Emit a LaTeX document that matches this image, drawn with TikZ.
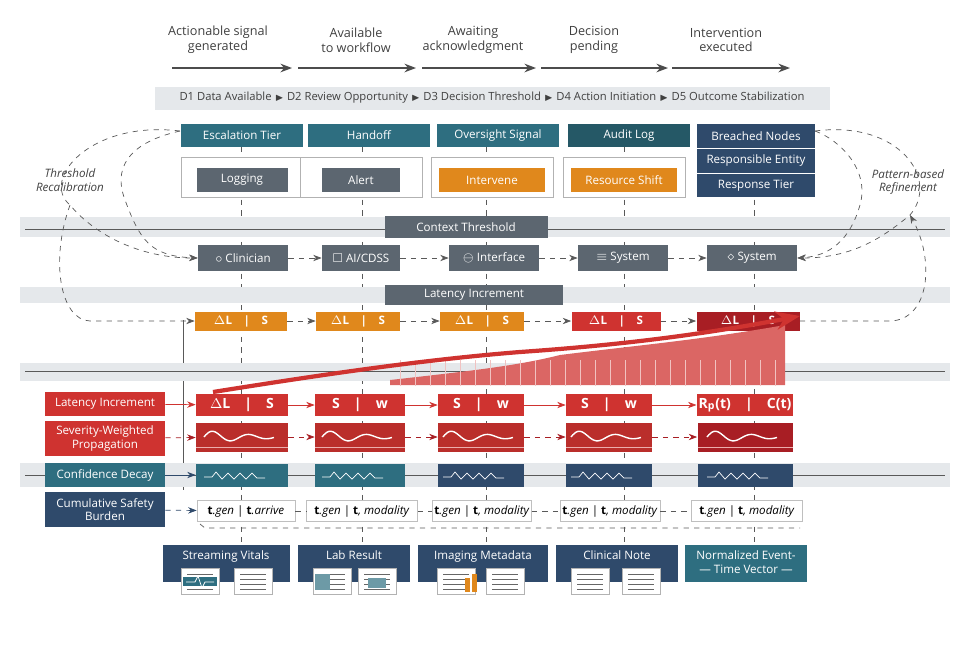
\documentclass[tikz,border=0pt]{standalone}
\usepackage{amssymb}
\usepackage{fontspec}
\setmainfont{Open Sans}
\usetikzlibrary{arrows.meta,positioning}
\definecolor{tealc}{HTML}{2E6E80}
\definecolor{navyc}{HTML}{2F4A6B}
\definecolor{redc}{HTML}{CF3330}
\definecolor{dredc}{HTML}{A81E24}
\definecolor{orangec}{HTML}{E0881C}
\definecolor{grayc}{HTML}{5C6670}
\definecolor{bandc}{HTML}{E5E8EB}
\newcommand{\tsz}{\fontsize{6.6}{7.6}\selectfont}
\begin{document}
\begin{tikzpicture}[
    x=0.02cm, y=-0.02cm,
    >=Stealth,
    txt/.style = {font=\tsz, text=black!75, align=center},
    box/.style = {font=\tsz, text=white, align=center, inner sep=1pt},
    tier/.style = {box, fill=tealc, minimum width=122*0.02cm, minimum height=23*0.02cm},
    actor/.style = {box, fill=grayc, minimum width=90*0.02cm, minimum height=26*0.02cm},
    lab/.style = {box, minimum width=120*0.02cm},
    guide/.style = {dashed, gray!70!black, thin},
    flow/.style = {dashed, ->, gray!70!black, thin},
    band/.style = {fill=bandc, draw=none}
  ]
  \useasboundingbox (0,0) rectangle (975,650);

  % stage captions
  \foreach \cx/\tx [count=\i] in {218/Actionable signal\\generated, 356/Available\\to workflow,
      473/Awaiting\\acknowledgment, 594/Decision\\pending, 726/Intervention\\executed}
    \node[txt, font=\fontsize{7.2}{8.4}\selectfont] (stage\i) at (\cx,40) {\tx};
  \foreach \a/\b in {172/292, 298/416, 422/536, 541/668, 672/790}
    \draw[->, thick, gray!60!black] (\a,68) -- (\b,68);

  % decision band
  \path[band] (155,87) rectangle (830,110);
  \node[txt, font=\fontsize{6.4}{7}\selectfont] (dband) at (492,98)
    {D1 Data Available {\tiny$\blacktriangleright$} D2 Review Opportunity {\tiny$\blacktriangleright$} D3 Decision Threshold {\tiny$\blacktriangleright$} D4 Action Initiation {\tiny$\blacktriangleright$} D5 Outcome Stabilization};

  % vertical guides
  \foreach \cx in {241,362,486,624,754}
    \draw[guide] (\cx,147) -- (\cx,545);
  \draw[gray!70!black, thin] (183,320) -- (183,490);

  % gray bands
  \path[band] (20,217) rectangle (950,237);
  \path[band] (20,287) rectangle (950,303);
  \path[band] (20,363) rectangle (950,381);
  \path[band] (20,463) rectangle (950,487);
  \draw[gray!70!black] (25,229) -- (945,229);
  \draw[gray!70!black] (25,371) -- (945,371);
  \draw[gray!70!black] (25,475) -- (945,475);

  % tier headers
  \node[tier] (t1) at (242,135.5) {Escalation Tier};
  \node[tier] (t2) at (369,135.5) {Handoff};
  \node[tier] (t3) at (498,135.5) {Oversight Signal};
  \node[tier, fill=tealc!80!black] (t4) at (629,135.5) {Audit Log};
  \node[box, fill=navyc, minimum width=118*0.02cm, minimum height=24*0.02cm] (b1) at (756,136) {Breached Nodes};
  \node[box, fill=navyc, minimum width=118*0.02cm, minimum height=24*0.02cm, below=0pt of b1] (b2) {Responsible Entity};
  \node[box, fill=navyc, minimum width=118*0.02cm, minimum height=24*0.02cm, below=0pt of b2] (b3) {Response Tier};
  \foreach \n in {b1,b2} \draw[white] (\n.south west) -- (\n.south east);

  % action boxes
  \foreach \cx/\w/\c/\tx [count=\i] in {242/91/grayc/Logging, 361/78/grayc/Alert,
      492/106/orangec/Intervene, 624/106/orangec/Resource Shift} {
    \draw[gray!60, fill=white] (\cx-61,157) rectangle (\cx+61,197);
    \node[box, fill=\c, minimum width=\w*0.02cm, minimum height=24*0.02cm] (act\i) at (\cx,180) {\tx};
  }

  \node[box, fill=grayc, minimum width=163*0.02cm, minimum height=22*0.02cm] (ctx) at (466,227) {Context Threshold};

  % actors
  \node[actor] (a1) at (243,258) {$\circ$ Clinician};
  \node[actor, minimum width=78*0.02cm] (a2) at (361,258) {$\square$ AI/CDSS};
  \node[actor] (a3) at (494,258) {$\ominus$ Interface};
  \node[actor] (a4) at (623,258) {$\equiv$\ System};
  \node[actor] (a5) at (752,258) {$\diamond$ System};
  \foreach \a/\b in {a1/a2, a2/a3, a3/a4, a4/a5}
    \draw[flow] (\a) -- (\b);

  \node[box, fill=grayc, minimum width=178*0.02cm, minimum height=20*0.02cm] (lat) at (474,295) {Latency Increment};

  % latency row
  \foreach \cx/\w/\c [count=\i] in {241/92/orangec, 358/84/orangec, 482/84/orangec, 616/89/redc, 748/103/dredc} {
    \node[box, fill=\c, minimum width=\w*0.02cm, minimum height=19*0.02cm, font=\tsz\bfseries] (dl\i) at (\cx,321)
      {$\Delta$L\quad\textbar\quad S};
  }
  \foreach \a/\b in {dl1/dl2, dl2/dl3, dl3/dl4, dl4/dl5}
    \draw[flow] (\a) -- (\b);

  % rising severity
  \fill[redc!75] (390,385) -- (390,380) .. controls (480,370) and (520,365) .. (560,355)
    .. controls (640,345) and (700,340) .. (785,325) -- (785,385) -- cycle;
  \foreach \x in {400,415,...,780} \draw[white!70!redc, thin] (\x,386) -- (\x,360);
  \draw[->, redc, line width=2.4pt] (213,392) .. controls (320,375) and (420,360) .. (520,352)
    .. controls (620,345) and (700,335) .. (800,316);

  % left labels
  \node[lab, fill=redc, minimum height=24*0.02cm] (l1) at (105,404) {Latency Increment};
  \node[lab, fill=redc, minimum height=35*0.02cm] (l2) at (105,438.5) {Severity-Weighted\\Propagation};
  \node[lab, fill=tealc, minimum height=24*0.02cm] (l3) at (105,475) {Confidence Decay};
  \node[lab, fill=navyc, minimum height=35*0.02cm] (l4) at (105,509.5) {Cumulative Safety\\Burden};

  % value rows
  \foreach \cx/\w/\wc/\cc/\ta/\tb [count=\i] in {242/92/redc!90!black/tealc/$\Delta$L/S, 360/90/redc!90!black/tealc/S/w,
      481/86/redc!90!black/navyc/S/w, 609/86/redc!90!black/navyc/S/w, 745/95/dredc/navyc/R\textsubscript{p}(t)/C(t)} {
    \node[box, fill=redc, minimum width=\w*0.02cm, minimum height=22*0.02cm, font=\fontsize{8}{9}\selectfont\bfseries] (v\i) at (\cx,405)
      {\ta\quad\textbar\quad\tb};
    \node[box, fill=\wc, minimum width=\w*0.02cm, minimum height=29*0.02cm] (w\i) at (\cx,437) {};
    \begin{scope}[shift={(\cx-38,437)}]
      \draw[white, thick] plot[smooth, domain=0:70, samples=40] (\x,{-7*sin(10*\x)*exp(-\x/45)});
    \end{scope}
    \draw[white!60!redc] (\cx-\w/2,447) -- (\cx+\w/2,447);
    \node[box, fill=\cc, minimum width=\w*0.02cm, minimum height=23*0.02cm] (c\i) at (\cx,475) {};
    \draw[white, thin] (\cx-38,477) -- ++(8,0) -- ++(4,-5) -- ++(6,7) -- ++(6,-6) -- ++(6,6) -- ++(6,-6)
      -- ++(6,6) -- ++(6,-6) -- ++(5,5) -- ++(8,0);
  }
  \foreach \a/\b in {v1/v2, v2/v3, v3/v4, v4/v5} \draw[->, redc] (\a) -- (\b);
  \foreach \a/\b in {w1/w2, w2/w3, w3/w4, w4/w5} \draw[->, dashed, dredc] (\a) -- (\b);
  \draw[->, redc] (l1) -- (v1);
  \draw[->, dashed, dredc] (l2) -- (w1);
  \draw[->, navyc] (l3) -- (c1);

  % event-time row
  \foreach \cx/\w/\tb [count=\i] in {246/98/{.arrive}, 362/111/{, modality}, 482/92/{, modality},
      610/100/{, modality}, 747/111/{, modality}} {
    \node[draw=gray!50, fill=white, minimum width=\w*0.02cm, minimum height=21*0.02cm, font=\tsz, inner sep=1pt] (e\i) at (\cx,511)
      {\textbf{t}\textit{.gen}\ \textbar\ \textbf{t}\textit{\tb}};
  }
  \foreach \a/\b in {e1/e2, e2/e3, e3/e4, e4/e5} \draw[guide] (\a) -- (\b);
  \draw[->, dashed, navyc] (l4) -- (e1);
  \draw[guide] (200,524) -- (205,528) -- (800,528);

  % sources
  \foreach \cx/\w/\c/\tx [count=\i] in {226/127/navyc/Streaming Vitals, 354/112/navyc/Lab Result,
      483/130/navyc/Imaging Metadata, 617/122/navyc/Clinical Note, 746/122/tealc/{Normalized Event-\\--- Time Vector ---}} {
    \node[box, fill=\c, minimum width=\w*0.02cm, minimum height=37*0.02cm, anchor=north] (s\i) at (\cx,545) {};
    \node[box, anchor=north] (st\i) at (\cx,549) {\tx};
  }
  \foreach \cx in {200,253,332,377,456,505,590,641} {
    \draw[gray!60, fill=white] (\cx-19,568) rectangle (\cx+19,594);
    \foreach \yy in {574,579,584,589} \draw[gray!80!black, thin] (\cx-13,\yy) -- (\cx+13,\yy);
  }
  \fill[tealc] (183,577) rectangle (217,586);
  \draw[white, thin] (186,582) -- (195,582) -- (198,576) -- (202,588) -- (205,582) -- (214,582);
  \fill[tealc!70] (315,574) rectangle (330,590);
  \fill[tealc!70] (368,578) rectangle (386,588);
  \fill[orangec] (465,578) rectangle (470,592);
  \fill[orangec] (472,574) rectangle (477,592);

  % feedback loops
  \node[txt, font=\fontsize{6.6}{7.6}\selectfont\itshape] (thr) at (70,180) {Threshold\\Recalibration};
  \node[txt, font=\fontsize{6.6}{7.6}\selectfont\itshape] (pat) at (908,182) {Pattern-based\\Refinement};
  \coordinate (lt) at (180,131);
  \coordinate (rt) at (815,131);
  \draw[flow] (lt) .. controls (90,120) and (40,180) .. (70,205) .. controls (95,235) and (140,258) .. (a1.west);
  \draw[flow] (lt) .. controls (140,140) and (110,160) .. (125,200) .. controls (140,240) and (150,256) .. (a1.west);
  \draw[flow] (70,205) .. controls (50,260) and (60,320) .. (90,321) -- (dl1.west);
  \draw[flow] (rt) .. controls (900,120) and (940,180) .. (910,215) .. controls (880,240) and (850,258) .. (a5.east);
  \draw[flow] (rt) .. controls (840,140) and (870,170) .. (860,205) .. controls (850,240) and (830,256) .. (a5.east);
  \draw[flow] (dl5.east) -- (890,321) .. controls (930,320) and (935,260) .. (910,215);
\end{tikzpicture}
\end{document}
